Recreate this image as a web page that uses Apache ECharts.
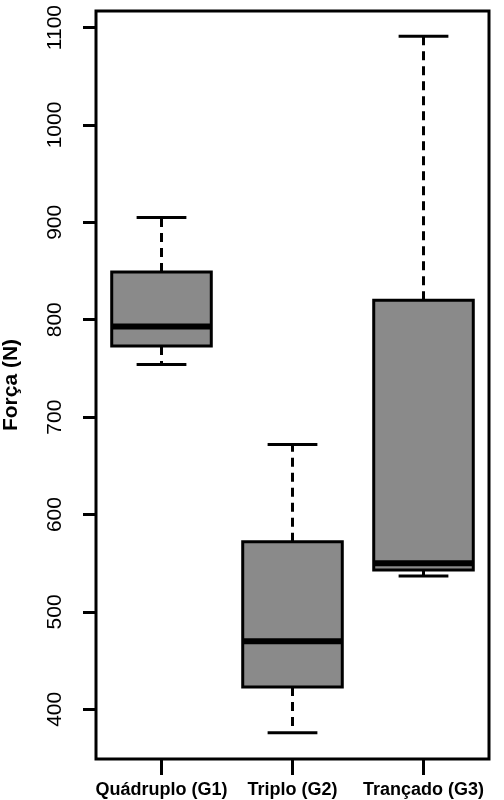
<!DOCTYPE html>
<html>
<head>
<meta charset="utf-8">
<script src="https://cdn.jsdelivr.net/npm/echarts@6/dist/echarts.min.js"></script>
<style>
  html, body { margin: 0; padding: 0; background: #fff; }
  #main { width: 504px; height: 800px; }
</style>
</head>
<body>
<div id="main"></div>
<script>
// grupos e estatísticas (N)
var grupos = ['Quádruplo (G1)', 'Triplo (G2)', 'Trançado (G3)'];
var bigodeInf = [754, 376, 537];
var q1 = [773, 423, 543];
var mediana = [793, 470, 550];
var q3 = [849, 572, 820];
var bigodeSup = [905, 672, 1091];
var yTicks = [400, 500, 600, 700, 800, 900, 1000, 1100];

var fonte = 'Liberation Sans, Arial, Helvetica, sans-serif';

var dados = [];
for (var i = 0; i < grupos.length; i++) {
    dados.push([i, bigodeInf[i], q1[i], mediana[i], q3[i], bigodeSup[i]]);
}

function renderBox(params, api) {
    var x = api.value(0);
    var pLo = api.coord([x, api.value(1)]);
    var pQ1 = api.coord([x, api.value(2)]);
    var pMed = api.coord([x, api.value(3)]);
    var pQ3 = api.coord([x, api.value(4)]);
    var pHi = api.coord([x, api.value(5)]);
    var w = api.size([1, 0])[0] * 0.76;
    var cx = pMed[0];
    var cap = w / 4;
    var dash = { stroke: '#000', lineWidth: 3, lineDash: [9, 6] };
    var solid = { stroke: '#000', lineWidth: 3 };
    return {
        type: 'group',
        children: [
            { type: 'line', shape: { x1: cx, y1: pQ3[1], x2: cx, y2: pHi[1] }, style: dash },
            { type: 'line', shape: { x1: cx, y1: pQ1[1], x2: cx, y2: pLo[1] }, style: dash },
            { type: 'line', shape: { x1: cx - cap, y1: pHi[1], x2: cx + cap, y2: pHi[1] }, style: solid },
            { type: 'line', shape: { x1: cx - cap, y1: pLo[1], x2: cx + cap, y2: pLo[1] }, style: solid },
            {
                type: 'rect',
                shape: { x: cx - w / 2, y: pQ3[1], width: w, height: pQ1[1] - pQ3[1] },
                style: { fill: '#8a8a8a', stroke: '#000', lineWidth: 3 }
            },
            { type: 'line', shape: { x1: cx - w / 2, y1: pMed[1], x2: cx + w / 2, y2: pMed[1] }, style: { stroke: '#000', lineWidth: 6 } }
        ]
    };
}

var myChart = echarts.init(document.getElementById('main'));
var option = {
    animation: false,
    backgroundColor: '#fff',
    grid: {
        left: 96, right: 15, top: 11, bottom: 41,
        containLabel: false,
        outerBoundsMode: 'none',
        show: true, borderColor: '#000', borderWidth: 3, backgroundColor: 'transparent'
    },
    xAxis: {
        type: 'category',
        data: grupos,
        axisLine: { show: false },
        axisTick: { show: true, alignWithLabel: true, length: 16, lineStyle: { color: '#000', width: 3 } },
        axisLabel: { color: '#000', fontFamily: fonte, fontWeight: 'bold', fontSize: 18, margin: 22, interval: 0 },
        splitLine: { show: false }
    },
    yAxis: {
        type: 'value',
        min: 349,
        max: 1117,
        name: 'Força (N)',
        nameLocation: 'middle',
        nameRotate: 90,
        nameGap: 74,
        nameTextStyle: { color: '#000', fontFamily: fonte, fontWeight: 'bold', fontSize: 21 },
        axisLine: { show: false },
        axisTick: { show: true, length: 13, customValues: yTicks, lineStyle: { color: '#000', width: 3 } },
        axisLabel: {
            color: '#000', fontFamily: fonte, fontSize: 21, rotate: 90, margin: 30,
            customValues: yTicks,
            formatter: function (v) { return String(v); }
        },
        splitLine: { show: false }
    },
    series: [{
        type: 'custom',
        renderItem: renderBox,
        data: dados,
        encode: { x: 0, y: [1, 2, 3, 4, 5] }
    }]
};
myChart.setOption(option);
window.addEventListener('resize', function () {
    myChart.resize();
});
</script>
</body>
</html>
